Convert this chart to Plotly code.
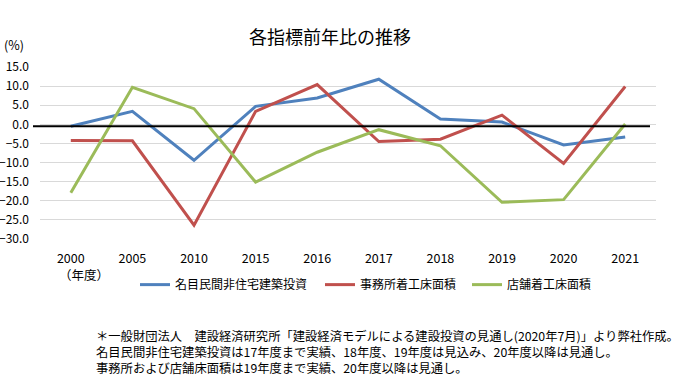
import plotly.graph_objects as go

years = ["2000", "2005", "2010", "2015", "2016", "2017", "2018", "2019", "2020", "2021"]
nominal_nonres = [-0.5, 3.4, -9.4, 4.7, 6.9, 11.8, 1.4, 0.6, -5.4, -3.3]
office_floor = [-4.2, -4.3, -26.4, 3.4, 10.4, -4.5, -3.9, 2.4, -10.2, 9.9]
store_floor = [-17.9, 9.7, 4.1, -15.1, -7.3, -1.4, -5.6, -20.4, -19.7, 0.1]
names = ["名目民間非住宅建築投資", "事務所着工床面積", "店舗着工床面積"]
colors = ["#4F81BD", "#C0504D", "#9BBB59"]
y_ticks = [15, 10, 5, 0, -5, -10, -15, -20, -25, -30]

W, H = 696, 384
L, R, T, B = 40, 656, 67, 239.3
FONT = "Noto Sans CJK JP"

def px(xp):
    return (xp - L) / (R - L)

def py(yp):
    return (B - yp) / (B - T)

fig = go.Figure()
series = [nominal_nonres, office_floor, store_floor]
legends = ["legend", "legend2", "legend3"]
for vals, name, col, lg in zip(series, names, colors, legends):
    fig.add_trace(go.Scatter(x=years, y=vals, name=name, mode="lines",
                             line=dict(color=col, width=3), legend=lg))

leg_common = dict(orientation="h", xanchor="left", yanchor="middle",
                  font=dict(family=FONT, size=12, color="#000000"),
                  bgcolor="rgba(0,0,0,0)", borderwidth=0, tracegroupgap=0)
fig.update_layout(
    legend=dict(x=px(135), y=py(285), **leg_common),
    legend2=dict(x=px(320), y=py(285), **leg_common),
    legend3=dict(x=px(467), y=py(285), **leg_common),
)

fig.add_shape(type="line", xref="paper", yref="y",
              x0=px(33), x1=px(650), y0=-0.5, y1=-0.5,
              line=dict(color="#000000", width=2), layer="above")

fig.update_layout(
    width=W, height=H,
    margin=dict(l=L, r=W - R, t=T, b=H - B, autoexpand=False),
    paper_bgcolor="white", plot_bgcolor="white",
    font=dict(family=FONT, size=12, color="#000000"),
    showlegend=True,
    title=dict(text="各指標前年比の推移", x=330 / W, xanchor="center",
               y=1 - 38 / H, yanchor="middle",
               font=dict(family=FONT, size=18, color="#000000")),
    xaxis=dict(type="category", range=[-0.5, 9.5], showgrid=False,
               showline=False, ticks="", tickfont=dict(size=12.5, color="#000000"),
               ticklabelstandoff=10, fixedrange=True, automargin=False),
    yaxis=dict(range=[-30, 15], tickvals=y_ticks, tickformat=".1f",
               showgrid=True, gridcolor="#D9D9D9", gridwidth=1,
               zeroline=False, showline=False, ticks="",
               tickfont=dict(size=12, color="#000000"),
               ticklabelstandoff=10, automargin=False, fixedrange=True),
)

fig.add_annotation(text="(%)", xref="paper", yref="paper", x=px(2), y=py(44),
                   xanchor="left", yanchor="middle", showarrow=False,
                   font=dict(family=FONT, size=12.5, color="#000000"))
fig.add_annotation(text="（年度）", xref="paper", yref="paper", x=px(57), y=py(275),
                   xanchor="left", yanchor="middle", showarrow=False,
                   font=dict(family=FONT, size=12.5, color="#000000"))

notes = [
    "＊一般財団法人\u3000建設経済研究所「建設経済モデルによる建設投資の見通し(2020年7月)」より弊社作成。",
    "名目民間非住宅建築投資は17年度まで実績、18年度、19年度は見込み、20年度以降は見通し。",
    "事務所および店舗床面積は19年度まで実績、20年度以降は見通し。",
]
fig.add_annotation(text="<br>".join(notes), xref="paper", yref="paper",
                   x=px(95), y=py(352), xanchor="left", yanchor="middle",
                   align="left", showarrow=False, borderpad=0,
                   font=dict(family=FONT, size=12.3, color="#000000"))

fig.write_html("out.html", config={"displayModeBar": False},
               post_script="document.body.style.margin='0';document.body.style.padding='0';")
